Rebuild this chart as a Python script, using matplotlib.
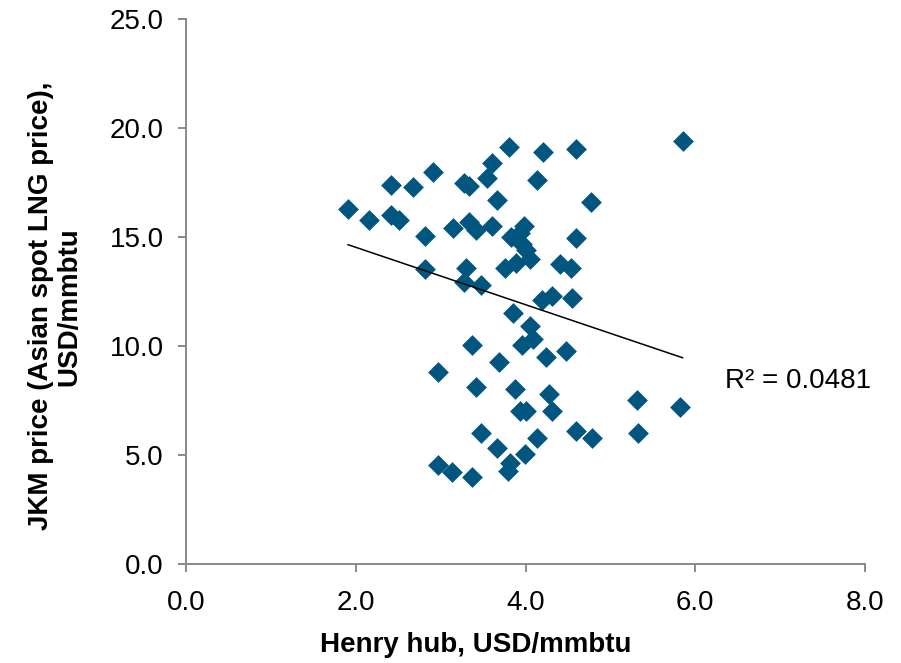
import numpy as np
import matplotlib
matplotlib.use("Agg")
import matplotlib.pyplot as plt
from matplotlib.ticker import FormatStrFormatter

henry_hub = [1.91, 2.16, 2.41, 2.42, 2.51, 2.67, 2.91, 2.82, 2.82, 3.27,
             3.33, 3.15, 3.34, 3.42, 3.60, 3.55, 3.61, 3.80, 3.66, 3.30,
             3.28, 3.48, 3.76, 3.89, 4.05, 4.00, 3.96, 3.83, 3.93, 3.98,
             4.21, 4.59, 4.14, 4.77, 5.85, 4.60, 4.41, 4.54, 4.31, 4.20,
             4.55, 3.85, 4.05, 4.09, 3.96, 4.24, 4.48, 3.37, 3.69, 2.97,
             3.42, 3.88, 4.28, 3.93, 4.01, 4.31, 3.48, 4.13, 4.60, 4.78,
             3.67, 3.99, 2.97, 3.13, 3.37, 3.82, 3.79, 5.31, 5.82, 5.33]
jkm = [16.30, 15.80, 17.40, 16.00, 15.80, 17.30, 18.00, 15.05, 13.55, 17.50,
       17.35, 15.40, 15.70, 15.30, 15.50, 17.70, 18.40, 19.15, 16.70, 13.57,
       12.95, 12.80, 13.60, 13.80, 14.00, 14.40, 14.70, 15.00, 15.20, 15.50,
       18.90, 19.05, 17.60, 16.60, 19.40, 14.95, 13.76, 13.60, 12.30, 12.10,
       12.20, 11.50, 10.90, 10.30, 10.05, 9.50, 9.78, 10.05, 9.28, 8.82,
       8.13, 8.04, 7.80, 7.04, 7.04, 7.00, 6.03, 5.80, 6.08, 5.80,
       5.30, 5.03, 4.52, 4.20, 3.98, 4.62, 4.25, 7.54, 7.22, 6.03]

x_ticks = [0, 2, 4, 6, 8]
y_ticks = [0, 5, 10, 15, 20, 25]
r2_label = "R² = 0.0481"

plt.rcParams['font.family'] = ['Liberation Sans', 'DejaVu Sans']

fig = plt.figure(figsize=(9.01, 6.63), dpi=100)
ax = fig.add_axes([186/901, 1-564/663, 679/901, 545/663])

x = np.array(henry_hub)
y = np.array(jkm)
ax.scatter(x, y, marker='D', s=112, color='#00567f', linewidths=0, zorder=3)

slope, intercept = np.polyfit(x, y, 1)
xs = np.array([x.min(), x.max()])
ax.plot(xs, slope*xs + intercept, color='black', lw=1.1, zorder=4)

ax.text(6.35, 8.4, r2_label, fontsize=20, ha='left', va='center', color='black')

ax.set_xlim(0, 8)
ax.set_ylim(0, 25)
ax.set_xticks(x_ticks)
ax.set_yticks(y_ticks)
ax.xaxis.set_major_formatter(FormatStrFormatter('%.1f'))
ax.yaxis.set_major_formatter(FormatStrFormatter('%.1f'))

for s in ['top', 'right']:
    ax.spines[s].set_visible(False)
for s in ['left', 'bottom']:
    ax.spines[s].set_color('#898989')
    ax.spines[s].set_linewidth(1.4)

ax.tick_params(axis='both', direction='out', length=6, width=1.4, color='#898989',
               labelsize=20, labelcolor='black')
ax.tick_params(axis='x', pad=13)
ax.tick_params(axis='y', pad=10)

ax.set_xlabel("Henry hub, USD/mmbtu", fontsize=20, fontweight='bold', va='center')
ax.xaxis.set_label_coords(0.427, -0.149)
ax.set_ylabel("JKM price (Asian spot LNG price),\nUSD/mmbtu", fontsize=20,
              fontweight='bold', va='center', ha='center', linespacing=1.1)
ax.yaxis.set_label_coords(-0.193, 0.473)

fig.savefig("out.png", dpi=100)
